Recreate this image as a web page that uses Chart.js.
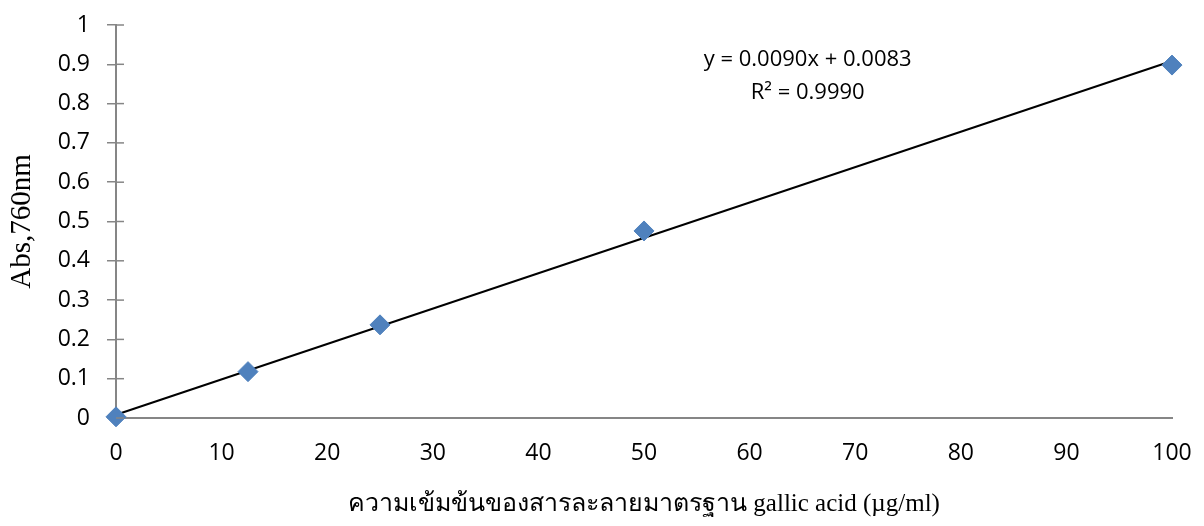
<!DOCTYPE html>
<html>
<head>
<meta charset="utf-8">
<script src="https://cdn.jsdelivr.net/npm/chart.js@4.4.1/dist/chart.umd.min.js"></script>
<style>
  html, body { margin: 0; padding: 0; background: #fff; }
  #wrap { width: 1204px; height: 526px; position: relative; }
</style>
</head>
<body>
<div id="wrap"><canvas id="chart"></canvas></div>
<script>
// standard curve data
var concentrations = [0, 12.5, 25, 50, 100];
var absorbances = [0.003, 0.118, 0.237, 0.476, 0.898];

// linear trendline as printed on the chart
var slope = 0.0090;
var intercept = 0.0083;
var trendX = [0, 100];
var equationLines = ['y = 0.0090x + 0.0083', 'R\u00b2 = 0.9990'];

var xTitle = 'ความเข้มข้นของสารละลายมาตรฐาน gallic acid (µg/ml)';
var yTitle = 'Abs,760nm';

var axisColor = '#868686';
var sans = "'Open Sans', 'Liberation Sans', sans-serif";
var serif = "'Liberation Serif', 'Noto Sans', serif";
var tickFont = { family: sans, size: 23 };

// small tick marks crossing the y axis + equation label
var extras = {
    id: 'extras',
    afterDraw: function (chart) {
        var ctx = chart.ctx;
        var y = chart.scales.y;
        var x = chart.scales.x;
        ctx.save();
        ctx.strokeStyle = axisColor;
        ctx.lineWidth = 1.5;
        y.ticks.forEach(function (t) {
            var py = y.getPixelForValue(t.value);
            ctx.beginPath();
            ctx.moveTo(x.left, py);
            ctx.lineTo(x.left + 8, py);
            ctx.stroke();
        });
        ctx.fillStyle = '#000';
        ctx.font = '22px ' + sans;
        ctx.textAlign = 'center';
        ctx.textBaseline = 'middle';
        var cx = x.getPixelForValue(65.5);
        ctx.fillText(equationLines[0], cx, 60);
        ctx.fillText(equationLines[1], cx, 93);
        ctx.restore();
    }
};

var ctx = document.getElementById('chart').getContext('2d');
var chart = new Chart(ctx, {
    type: 'scatter',
    data: {
        datasets: [{
            label: 'trend',
            type: 'line',
            data: trendX.map(function (v) { return { x: v, y: slope * v + intercept }; }),
            borderColor: '#000',
            borderWidth: 2,
            pointRadius: 0,
            fill: false,
            clip: false,
            order: 2
        }, {
            label: 'Abs',
            data: concentrations.map(function (c, i) { return { x: c, y: absorbances[i] }; }),
            pointStyle: 'rectRot',
            pointRadius: 10,
            pointHoverRadius: 10,
            backgroundColor: '#4F81BD',
            borderColor: '#4F81BD',
            borderWidth: 1,
            clip: false,
            order: 1
        }]
    },
    options: {
        responsive: true,
        maintainAspectRatio: false,
        animation: false,
        layout: { padding: { top: 25, right: 32, left: 0, bottom: 0 } },
        plugins: {
            legend: { display: false },
            tooltip: { enabled: false }
        },
        scales: {
            x: {
                type: 'linear',
                min: 0,
                max: 100,
                afterFit: function (s) { s.height = 108; s.paddingLeft = 0; s.paddingRight = 0; },
                ticks: { stepSize: 10, color: '#000', font: tickFont, padding: 22 },
                grid: { display: false, drawTicks: false },
                border: { display: true, color: axisColor, width: 2 },
                title: { display: true, text: xTitle, color: '#000', font: { family: serif, size: 25 }, padding: { top: 0, bottom: 7 } }
            },
            y: {
                min: 0,
                max: 1,
                afterFit: function (s) { s.width = 116; s.paddingTop = 0; s.paddingBottom = 0; },
                ticks: {
                    stepSize: 0.1, color: '#000', font: tickFont, padding: 17,
                    callback: function (v) { return String(Number(v.toFixed(1))); }
                },
                grid: { drawOnChartArea: false, drawTicks: true, tickLength: 9, color: axisColor, lineWidth: 1.5 },
                border: { display: true, color: axisColor, width: 2 },
                title: { display: true, text: yTitle, color: '#000', font: { family: serif, size: 29 }, padding: { top: 5, bottom: 0 } }
            }
        }
    },
    plugins: [extras]
});
</script>
</body>
</html>
